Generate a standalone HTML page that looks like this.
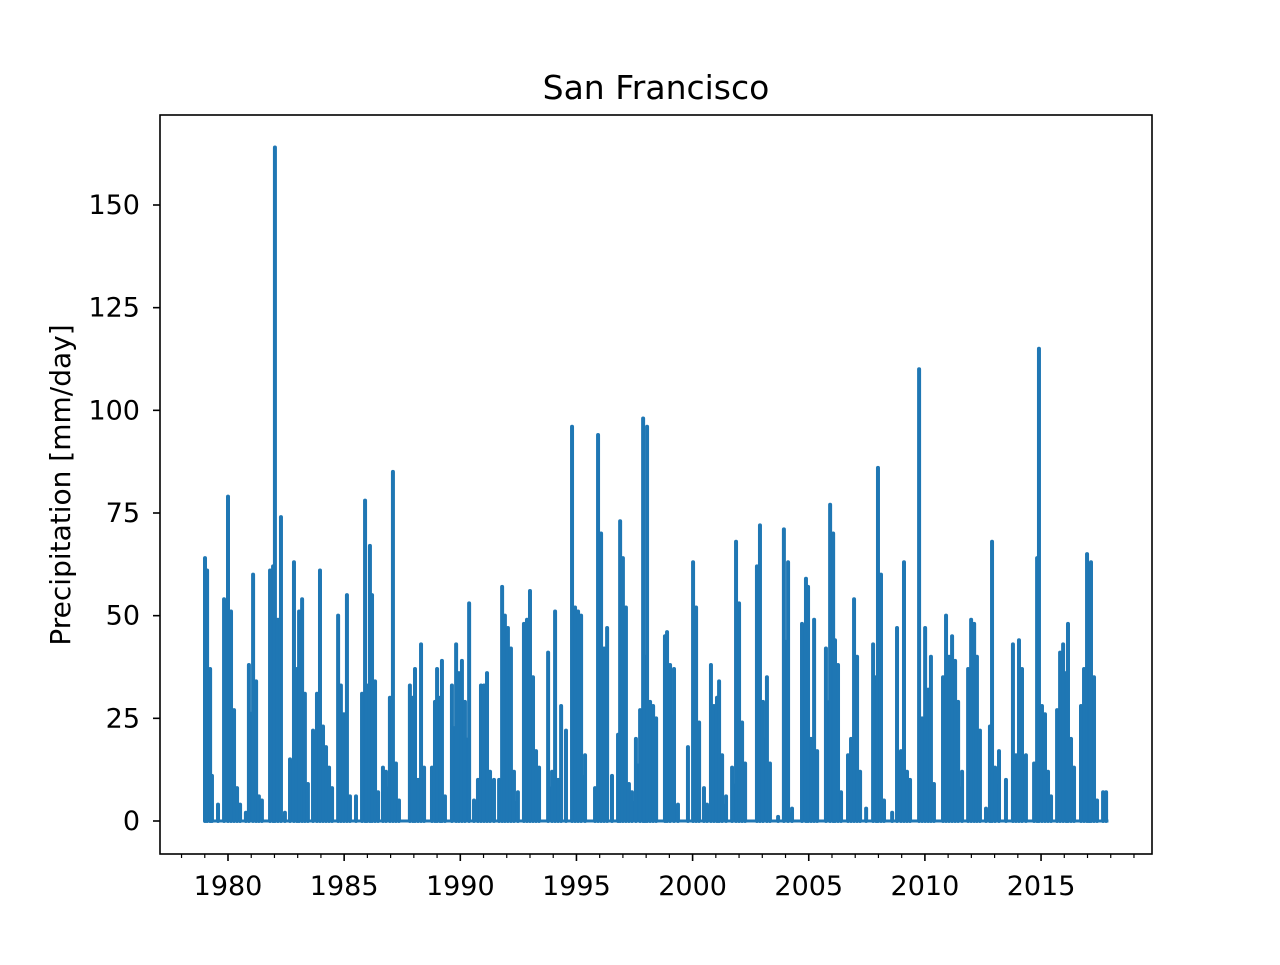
<!DOCTYPE html>
<html><head><meta charset="utf-8"><style>
html,body{margin:0;padding:0;background:#fff;}
svg text{font-family:"DejaVu Sans","Liberation Sans",sans-serif;fill:#000;}
</style></head><body>
<svg id="chart" width="1280" height="960" xmlns="http://www.w3.org/2000/svg">
<rect width="1280" height="960" fill="#fff"/>
<text x="656" y="99" font-size="33" text-anchor="middle">San Francisco</text>
<text transform="translate(70,485) rotate(-90)" font-size="28" text-anchor="middle">Precipitation [mm/day]</text>
<g id="marks"></g>
<g id="axes"></g>
</svg>
<script>
const dates=[1979.01,1979.10,1979.23,1979.31,1979.57,1979.83,1980.00,1980.13,1980.26,1980.39,1980.52,1980.77,1980.90,1981.08,1981.21,1981.33,1981.46,1981.81,1981.94,1982.02,1982.15,1982.28,1982.45,1982.67,1982.84,1982.97,1983.06,1983.19,1983.31,1983.44,1983.66,1983.83,1983.96,1984.09,1984.22,1984.35,1984.48,1984.74,1984.86,1984.99,1985.12,1985.25,1985.51,1985.77,1985.90,1985.98,1986.11,1986.20,1986.33,1986.46,1986.67,1986.80,1986.97,1987.10,1987.23,1987.36,1987.83,1987.96,1988.05,1988.18,1988.31,1988.44,1988.78,1988.91,1989.00,1989.13,1989.21,1989.34,1989.64,1989.82,1989.94,1990.07,1990.20,1990.38,1990.59,1990.76,1990.89,1991.02,1991.15,1991.28,1991.45,1991.67,1991.80,1991.92,1992.05,1992.18,1992.31,1992.48,1992.74,1992.87,1993.00,1993.13,1993.26,1993.39,1993.78,1993.95,1994.08,1994.21,1994.34,1994.55,1994.81,1994.94,1995.07,1995.20,1995.37,1995.80,1995.93,1996.06,1996.19,1996.32,1996.53,1996.79,1996.88,1997.00,1997.13,1997.26,1997.39,1997.56,1997.74,1997.87,1997.95,1998.04,1998.17,1998.30,1998.43,1998.81,1998.90,1999.03,1999.20,1999.37,1999.80,2000.02,2000.15,2000.28,2000.49,2000.62,2000.79,2000.92,2001.05,2001.14,2001.27,2001.44,2001.70,2001.87,2002.00,2002.13,2002.26,2002.77,2002.90,2003.03,2003.20,2003.33,2003.68,2003.93,2004.11,2004.28,2004.71,2004.88,2004.97,2005.10,2005.23,2005.36,2005.74,2005.92,2006.05,2006.13,2006.26,2006.39,2006.69,2006.82,2006.95,2007.08,2007.21,2007.47,2007.77,2007.90,2007.98,2008.11,2008.24,2008.59,2008.80,2008.97,2009.10,2009.23,2009.36,2009.75,2009.88,2010.01,2010.14,2010.26,2010.39,2010.78,2010.91,2011.04,2011.17,2011.30,2011.43,2011.60,2011.86,2011.99,2012.12,2012.24,2012.37,2012.63,2012.80,2012.89,2013.02,2013.19,2013.49,2013.79,2013.92,2014.05,2014.18,2014.35,2014.70,2014.83,2014.91,2015.04,2015.17,2015.30,2015.43,2015.69,2015.82,2015.95,2016.08,2016.16,2016.29,2016.42,2016.72,2016.85,2016.98,2017.07,2017.15,2017.28,2017.41,2017.67,2017.80];
const precip=[64,61,37,11,4,54,79,51,27,8,4,2,38,60,34,6,5,61,62,164,49,74,2,15,63,37,51,54,31,9,22,31,61,23,18,13,8,50,33,26,55,6,6,31,78,33,67,55,34,7,13,12,30,85,14,5,33,30,37,10,43,13,13,29,37,30,39,6,33,43,36,39,29,53,5,10,33,33,36,12,10,10,57,50,47,42,12,7,48,49,56,35,17,13,41,12,51,10,28,22,96,52,51,50,16,8,94,70,42,47,11,21,73,64,52,9,7,20,27,98,40,96,29,28,25,45,46,38,37,4,18,63,52,24,8,4,38,28,30,34,16,6,13,68,53,24,14,62,72,29,35,14,1,71,63,3,48,59,57,20,49,17,42,77,70,44,38,7,16,20,54,40,12,3,43,35,86,60,5,2,47,17,63,12,10,110,25,47,32,40,9,35,50,40,45,39,29,12,37,49,48,40,22,3,23,68,13,17,10,43,16,44,37,16,14,64,115,28,26,12,6,27,41,43,36,48,20,13,28,37,65,38,63,35,5,7,7];
const yTicks=[0,25,50,75,100,125,150];
const xTicks=[1980,1985,1990,1995,2000,2005,2010,2015];
const dataStart=1979.0, dataEnd=2017.9;

const L=160,R=1152,T=115,B=854;
const xS=v=>228+(v-1980)*23.23;
const yS=v=>821-v*4.1067;
const NS="http://www.w3.org/2000/svg";
const C="#1f77b4";
function mk(t,a,p){const e=document.createElementNS(NS,t);for(const k in a)e.setAttribute(k,a[k]);p.appendChild(e);return e;}
const g=document.getElementById('marks'), ax=document.getElementById('axes');

let bl=mk('line',{x1:xS(dataStart),x2:xS(dataEnd),y1:yS(0),y2:yS(0),stroke:C,'stroke-width':3},g);


for(let i=0;i<dates.length-1;i++){
  if(dates[i+1]-dates[i]<0.2){
    const h=Math.min(precip[i],precip[i+1])*0.7;
    const r=mk('rect',{x:xS(dates[i]),width:xS(dates[i+1])-xS(dates[i]),y:yS(h),height:yS(0)-yS(h),fill:C},g);
    
    
  }
}
dates.forEach((d,i)=>{
  const l=mk('line',{x1:xS(d),x2:xS(d),y1:yS(0),y2:yS(precip[i]),stroke:C,'stroke-width':4,'stroke-linecap':'round'},g);
  
  
});

const fr=mk('rect',{x:L,y:T,width:R-L,height:B-T,fill:'none',stroke:'#000','stroke-width':1.6},ax);


yTicks.forEach(v=>{
  const y=yS(v);
  const t=mk('line',{x1:L-7,x2:L,y1:y,y2:y,stroke:'#000','stroke-width':1.6},ax);
  
  
  const s=mk('text',{x:L-20,y:y+9,'font-size':27,'text-anchor':'end'},ax);
  s.textContent=v;
  
  
});
for(let yr=1978;yr<=2019;yr++){
  const x=xS(yr), major=xTicks.includes(yr);
  const t=mk('line',{x1:x,x2:x,y1:B,y2:B+(major?7:4),stroke:'#000','stroke-width':major?1.6:1.2},ax);
  
  
  if(major){
    const s=mk('text',{x:x,y:B+41,'font-size':27,'text-anchor':'middle'},ax);
    s.textContent=yr;
    
    
  }
}
</script>
</body></html>
